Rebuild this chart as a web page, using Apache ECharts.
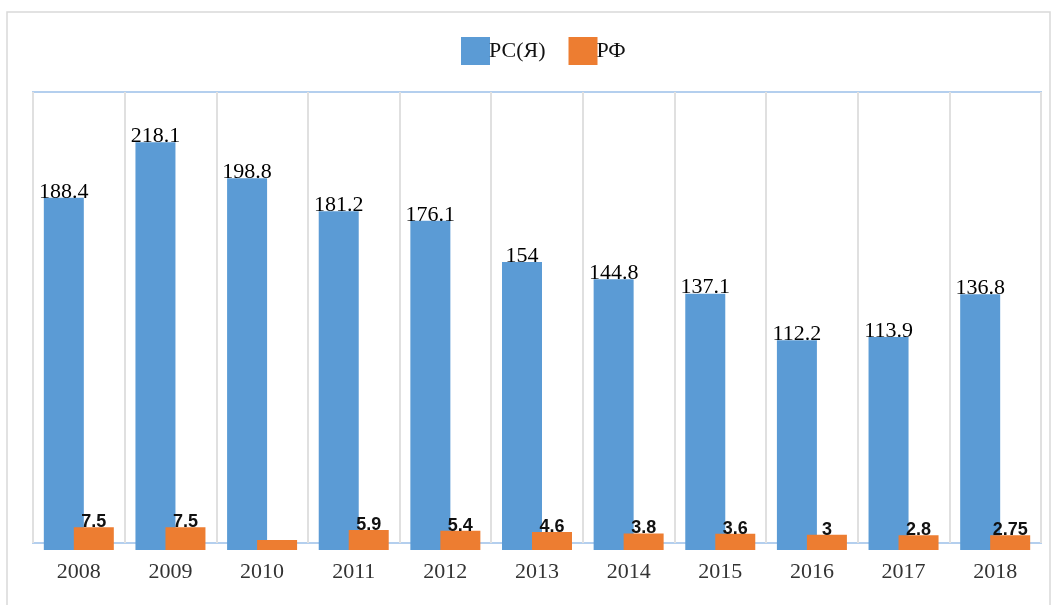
<!DOCTYPE html>
<html>
<head>
<meta charset="utf-8">
<script src="https://cdn.jsdelivr.net/npm/echarts@6/dist/echarts.min.js"></script>
<style>html,body{margin:0;padding:0;background:#fff}#c{width:1054px;height:605px}</style>
</head>
<body>
<div id="c"></div>
<script>
var categories = ['2008','2009','2010','2011','2012','2013','2014','2015','2016','2017','2018'];
var rsyValues = [188.4, 218.1, 198.8, 181.2, 176.1, 154, 144.8, 137.1, 112.2, 113.9, 136.8];
var rfValues = [7.5, 7.5, 0, 5.9, 5.4, 4.6, 3.8, 3.6, 3, 2.8, 2.75];
var seriesNames = ['РС(Я)', 'РФ'];

var chart = echarts.init(document.getElementById('c'));
var serif = '"Liberation Serif", "DejaVu Serif", serif';
chart.setOption({
  animation: false,
  backgroundColor: '#fff',
  graphic: [
    {type: 'rect', shape: {x: 7, y: 12, width: 1043, height: 620}, style: {fill: 'none', stroke: '#d9d9d9', lineWidth: 1.5}, z: -10},
    {type: 'rect', shape: {x: 33, y: 92, width: 1008, height: 451}, style: {fill: 'none', stroke: '#b4cfee', lineWidth: 2}, z: -5}
  ],
  legend: {
    left: 456, top: 32,
    itemWidth: 29, itemHeight: 28, itemGap: 23,
    icon: 'rect',
    textStyle: {fontFamily: serif, fontSize: 22, color: '#111', padding: [0, 0, 0, -6]},
    data: seriesNames
  },
  grid: {left: 33, right: 13, top: 92, bottom: 62, containLabel: false},
  xAxis: {
    type: 'category', data: categories,
    axisLine: {show: false}, axisTick: {show: false},
    splitLine: {show: true, lineStyle: {color: '#e0e0e0', width: 2}},
    axisLabel: {fontFamily: serif, fontSize: 22, color: '#333', margin: 18}
  },
  yAxis: [
    {type: 'value', min: 3.7, max: 245, show: false, splitLine: {show: false}},
    {type: 'value', min: -1.8, max: 263.5, startValue: -5.9, show: false, splitLine: {show: false}}
  ],
  series: [
    {
      name: seriesNames[0], type: 'bar', yAxisIndex: 0, data: rsyValues,
      barWidth: 40, barGap: '-25%', clip: false,
      itemStyle: {color: '#5b9bd5'},
      label: {show: true, position: 'top', distance: -5, fontFamily: serif, fontSize: 22, color: '#000'}
    },
    {
      name: seriesNames[1], type: 'bar', yAxisIndex: 1, data: rfValues,
      barWidth: 40, barGap: '-25%', clip: false, z: 3,
      itemStyle: {color: '#ed7d31'},
      label: {show: true, position: 'top', distance: -4, fontFamily: '"Liberation Sans", Arial, sans-serif', fontWeight: 'bold', fontSize: 18, color: '#111',
        formatter: function (p) { return p.value === 0 ? '' : String(p.value); }}
    }
  ]
});
</script>
</body>
</html>
